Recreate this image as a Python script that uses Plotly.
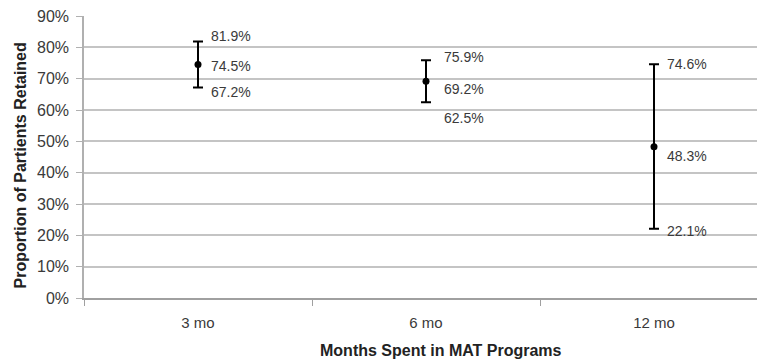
import plotly.graph_objects as go

categories = ["3 mo", "6 mo", "12 mo"]
point_est = [74.5, 69.2, 48.3]
upper_ci = [81.9, 75.9, 74.6]
lower_ci = [67.2, 62.5, 22.1]
y_ticks = [0, 10, 20, 30, 40, 50, 60, 70, 80, 90]

# label offsets (pixels) for the annotation text: (upper, point, lower)
label_yshift = [(5, -1, -5), (3, -8, -16), (0, -9, -2)]
label_xshift = [11, 16, 11]

xpos = list(range(len(categories)))
txt = "#3a3a3a"
font = "Liberation Sans, Arial, sans-serif"

fig = go.Figure()
fig.add_trace(go.Scatter(
    x=xpos, y=point_est, mode="markers",
    marker=dict(color="black", size=7),
    error_y=dict(type="data", symmetric=False,
                 array=[u - p for u, p in zip(upper_ci, point_est)],
                 arrayminus=[p - l for p, l in zip(point_est, lower_ci)],
                 color="black", thickness=2, width=5),
    showlegend=False, hoverinfo="skip"))

# invisible trace to carry the between-category tick marks
fig.add_trace(go.Scatter(x=[0], y=[0], xaxis="x2", mode="markers",
                         marker=dict(opacity=0), showlegend=False, hoverinfo="skip"))

for i, x in enumerate(xpos):
    for val, ys in zip((upper_ci[i], point_est[i], lower_ci[i]), label_yshift[i]):
        fig.add_annotation(x=x, y=val, text=f"{val:.1f}%", showarrow=False,
                           xanchor="left", yanchor="middle",
                           xshift=label_xshift[i], yshift=ys,
                           font=dict(size=14, color=txt, family=font))

fig.add_annotation(text="Months Spent in MAT Programs", xref="paper", yref="paper",
                   x=(441 - 84) / (757 - 84), y=0, yshift=-52, showarrow=False,
                   xanchor="center", yanchor="middle",
                   font=dict(size=16, color="#222", family=font, weight="bold"))
fig.add_annotation(text="Proportion of Partients Retained", xref="paper", yref="paper",
                   x=0, xshift=-64, y=0.47, showarrow=False, textangle=-90,
                   xanchor="center", yanchor="middle",
                   font=dict(size=16, color="#222", family=font, weight="bold"))

rng_max = 2 + (757 - 654) / 228
fig.update_layout(
    width=757, height=364,
    margin=dict(l=84, r=0, t=16, b=66),
    paper_bgcolor="white", plot_bgcolor="white",
    xaxis=dict(range=[-0.5, rng_max], tickvals=xpos, ticktext=categories,
               showgrid=False, zeroline=False, showline=False, ticks="",
               tickfont=dict(size=15, color=txt, family=font), ticklabelstandoff=14),
    xaxis2=dict(range=[-0.5, rng_max], overlaying="x", side="bottom",
                tickvals=[-0.5, 0.5, 1.5], showticklabels=False, ticks="outside",
                ticklen=6, tickcolor="#a0a0a0", tickwidth=1,
                showgrid=False, zeroline=False, showline=True, linecolor="#a0a0a0",
                linewidth=2),
    yaxis=dict(range=[0, 90], tickvals=y_ticks, ticktext=[f"{v}%" for v in y_ticks],
               showgrid=True, gridcolor="#c4c4c4", gridwidth=1.5,
               zeroline=False, showline=True, linecolor="#b0b0b0", linewidth=1.5,
               ticks="outside", ticklen=6, tickcolor="#b0b0b0", ticklabelstandoff=4,
               tickfont=dict(size=16, color=txt, family=font)),
)

fig.write_html("out.html")
